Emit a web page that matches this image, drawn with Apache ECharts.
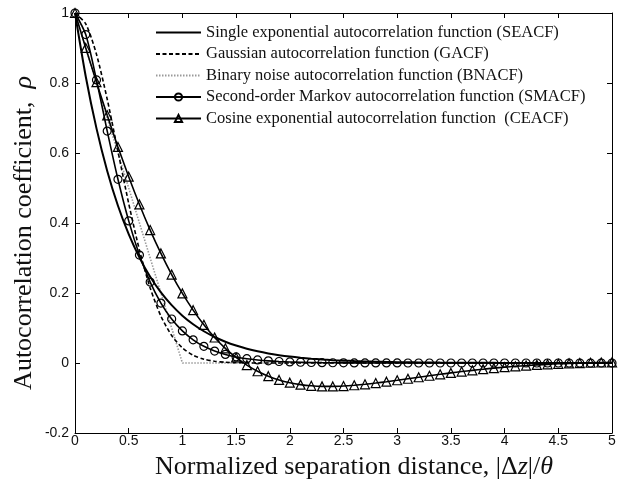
<!DOCTYPE html>
<html>
<head>
<meta charset="utf-8">
<script src="https://cdn.jsdelivr.net/npm/echarts@6/dist/echarts.min.js"></script>
<style>html,body{margin:0;padding:0;background:#fff}#c{width:626px;height:485px}</style>
</head>
<body>
<div id="c"></div>
<script>
// Normalized separation distance |Δz|/θ, step 0.1
const xs = [0,0.1,0.2,0.3,0.4,0.5,0.6,0.7,0.8,0.9,1,1.1,1.2,1.3,1.4,1.5,1.6,1.7,1.8,1.9,2,2.1,2.2,2.3,2.4,2.5,2.6,2.7,2.8,2.9,3,3.1,3.2,3.3,3.4,3.5,3.6,3.7,3.8,3.9,4,4.1,4.2,4.3,4.4,4.5,4.6,4.7,4.8,4.9,5];
const seacf = [1,0.8187,0.6703,0.5488,0.4493,0.3679,0.3012,0.2466,0.2019,0.1653,0.1353,0.1108,0.0907,0.0743,0.0608,0.0498,0.0408,0.0334,0.0273,0.0224,0.0183,0.0150,0.0123,0.0101,0.0082,0.0067,0.0055,0.0045,0.0037,0.0030,0.0025,0.0020,0.0017,0.0014,0.0011,0.0009,0.0007,0.0006,0.0005,0.0004,0.0003,0.0003,0.0002,0.0002,0.0002,0.0001,0.0001,0.0001,0.0001,0.0001,0];
const gacf = [1,0.9691,0.8819,0.7537,0.6049,0.4559,0.3227,0.2145,0.1339,0.0785,0.0432,0.0223,0.0108,0.0049,0.0021,0.0009,0.0003,0.0001,0,0,0,0,0,0,0,0,0,0,0,0,0,0,0,0,0,0,0,0,0,0,0,0,0,0,0,0,0,0,0,0,0];
const bnX = [0,1,5];
const bnacf = [1,0,0];
const smacf = [1,0.9384,0.8088,0.6626,0.5249,0.4060,0.3084,0.2311,0.1712,0.1257,0.0916,0.0663,0.0477,0.0342,0.0244,0.0174,0.0123,0.0087,0.0061,0.0043,0.0030,0.0021,0.0015,0.0010,0.0007,0.0005,0.0003,0.0002,0.0002,0.0001,0.0001,0,0,0,0,0,0,0,0,0,0,0,0,0,0,0,0,0,0,0,0];
const ceacf = [1,0.9003,0.8024,0.7077,0.6174,0.5323,0.4530,0.3798,0.3131,0.2527,0.1988,0.1510,0.1091,0.0729,0.0419,0.0158,-0.0059,-0.0235,-0.0376,-0.0484,-0.0563,-0.0618,-0.0652,-0.0668,-0.0669,-0.0658,-0.0636,-0.0608,-0.0573,-0.0534,-0.0493,-0.0450,-0.0407,-0.0364,-0.0323,-0.0283,-0.0245,-0.0210,-0.0177,-0.0147,-0.0120,-0.0095,-0.0074,-0.0054,-0.0038,-0.0023,-0.0011,-0.0001,0.0007,0.0014,0.0019];
const names = [
  'Single exponential autocorrelation function (SEACF)',
  'Gaussian autocorrelation function (GACF)',
  'Binary noise autocorrelation function (BNACF)',
  'Second-order Markov autocorrelation function (SMACF)',
  'Cosine exponential autocorrelation function  (CEACF)'
];
const xTitle = 'Normalized separation distance, ';
const yTitle = 'Autocorrelation coefficient, ';

const pairs = (x, y) => x.map((v, i) => [v, y[i]]);
const chart = echarts.init(document.getElementById('c'), null, {renderer: 'canvas'});
const axisCommon = () => ({
  axisLine: {show: true, onZero: false, lineStyle: {color: '#000', width: 1}},
  axisTick: {show: true, inside: true, length: 5, lineStyle: {color: '#000'}},
  splitLine: {show: false}
});
const labelStyle = {color: '#111', fontFamily: 'Liberation Sans', fontSize: 14};
chart.setOption({
  animation: false,
  backgroundColor: '#fff',
  grid: {left: 75, right: 14, top: 13, bottom: 52, containLabel: false},
  xAxis: [
    Object.assign({type: 'value', min: 0, max: 5, interval: 0.5, position: 'bottom',
      axisLabel: Object.assign({margin: 1}, labelStyle)}, axisCommon()),
    Object.assign({type: 'value', min: 0, max: 5, interval: 0.5, position: 'top',
      axisLabel: {show: false}}, axisCommon())
  ],
  yAxis: [
    Object.assign({type: 'value', min: -0.2, max: 1, interval: 0.2, position: 'left',
      axisLabel: Object.assign({margin: 6}, labelStyle)}, axisCommon()),
    Object.assign({type: 'value', min: -0.2, max: 1, interval: 0.2, position: 'right',
      axisLabel: {show: false}}, axisCommon())
  ],
  legend: {
    orient: 'vertical', left: 150, top: 19, itemWidth: 45, itemHeight: 9, itemGap: 4.5,
    textStyle: {fontFamily: 'Liberation Serif', fontSize: 16.5, color: '#111', lineHeight: 17},
    data: [
      {name: names[0], itemStyle: {opacity: 0}},
      {name: names[1], itemStyle: {opacity: 0}},
      {name: names[2], itemStyle: {opacity: 0}},
      {name: names[3]},
      {name: names[4]}
    ]
  },
  graphic: [
    {type: 'text', x: 354, y: 467, style: {
      text: '{a|' + xTitle + '|Δ}{i|z}{a||/}{i|θ}',
      align: 'center', verticalAlign: 'middle',
      rich: {a: {fontFamily: 'Liberation Serif', fontSize: 26, fill: '#111'},
             i: {fontFamily: 'Liberation Serif', fontSize: 26, fontStyle: 'italic', fill: '#111'}}
    }},
    {type: 'text', x: 24, y: 233, rotation: Math.PI / 2, style: {
      text: '{a|' + yTitle + ' }{i|ρ}',
      align: 'center', verticalAlign: 'middle',
      rich: {a: {fontFamily: 'Liberation Serif', fontSize: 26, fill: '#111'},
             i: {fontFamily: 'Liberation Serif', fontSize: 26, fontStyle: 'italic', fill: '#111'}}
    }}
  ],
  series: [
    {name: names[0], type: 'line', data: pairs(xs, seacf), symbol: 'none', smooth: 0.25,
      lineStyle: {color: '#000', width: 2}, itemStyle: {color: '#000'}, z: 5},
    {name: names[1], type: 'line', data: pairs(xs, gacf), symbol: 'none', smooth: 0.25,
      lineStyle: {color: '#000', width: 1.6, type: [4, 2.5]}, itemStyle: {color: '#000'}, z: 4},
    {name: names[2], type: 'line', data: pairs(bnX, bnacf), symbol: 'none',
      lineStyle: {color: '#9a9a9a', width: 1.6, type: [1.5, 1.5]}, itemStyle: {color: '#9a9a9a'}, z: 3},
    {name: names[3], type: 'line', data: pairs(xs, smacf), symbol: 'circle', symbolSize: 8, showSymbol: true,
      smooth: 0.25,
      lineStyle: {color: '#000', width: 1.6},
      itemStyle: {color: 'rgba(0,0,0,0)', borderColor: '#000', borderWidth: 1.2}, z: 6},
    {name: names[4], type: 'line', data: pairs(xs, ceacf), symbol: 'triangle', symbolSize: 9, showSymbol: true,
      smooth: 0.25,
      lineStyle: {color: '#000', width: 1.6},
      itemStyle: {color: 'rgba(0,0,0,0)', borderColor: '#000', borderWidth: 1.2}, z: 6}
  ]
});
</script>
</body>
</html>
